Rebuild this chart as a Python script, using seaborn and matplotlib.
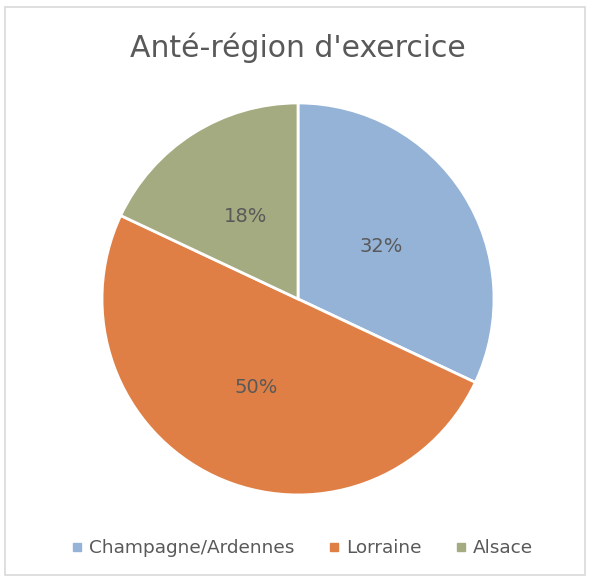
import matplotlib.pyplot as plt
import seaborn as sns
from matplotlib.patches import Rectangle
from matplotlib.lines import Line2D

# data
regions = ["Champagne/Ardennes", "Lorraine", "Alsace"]
shares = [32, 50, 18]
colors = ["#95B3D7", "#E07F45", "#A5AB80"]
title = "Anté-région d'exercice"

sns.set_theme(style="white")
plt.rcParams['font.family'] = ['DejaVu Sans']
text_color = "#595959"

fig = plt.figure(figsize=(5.9, 5.8), dpi=100)

# light border round the chart area
fig.patches.append(Rectangle((5 / 590, 5 / 580), 580 / 590, 568 / 580,
                             transform=fig.transFigure, fill=False,
                             edgecolor="#D9D9D9", linewidth=1.2))

ax = fig.add_axes([0.1729, 0.1466, 0.6644, 0.6759])
wedges, texts, autotexts = ax.pie(
    shares, colors=colors, startangle=90, counterclock=False,
    autopct="%1.0f%%", pctdistance=0.5,
    wedgeprops=dict(edgecolor="white", linewidth=2),
    textprops=dict(color=text_color, fontsize=14))
ax.set_xlim(-1, 1)
ax.set_ylim(-1, 1)
ax.set_aspect("equal")
ax.axis("off")

fig.text(298 / 590, 1 - 48 / 580, title, ha="center", va="center",
         fontsize=21.5, color=text_color)

handles = [Line2D([], [], marker="s", linestyle="none", markersize=6,
                  markerfacecolor=c, markeredgecolor=c) for c in colors]
fig.legend(handles, regions, loc="center", bbox_to_anchor=(302 / 590, 1 - 548 / 580),
           ncol=3, frameon=False, fontsize=13.3, labelcolor=text_color,
           handletextpad=0.3, columnspacing=1.8, handlelength=0.7)

fig.savefig("out.png", dpi=100)
